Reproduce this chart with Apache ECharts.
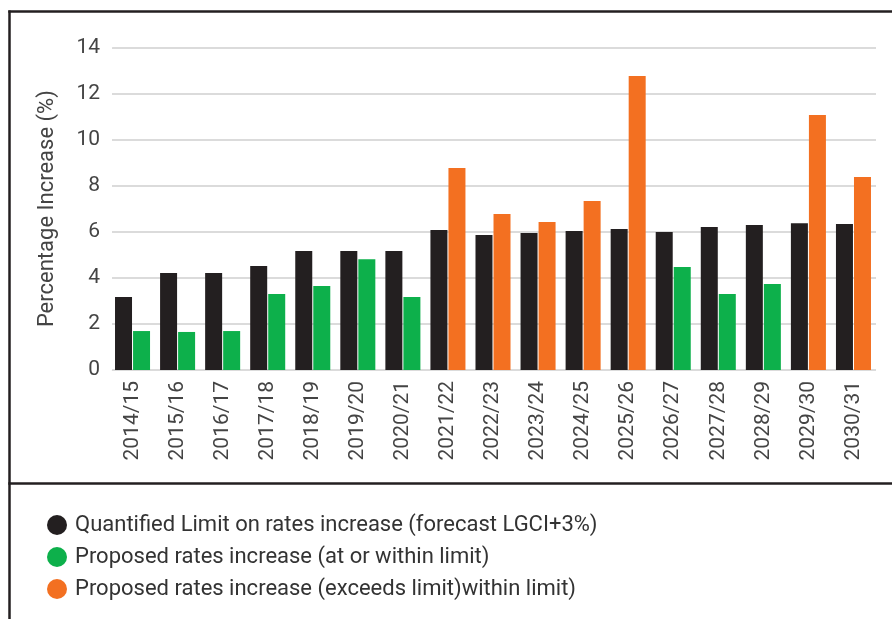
<!DOCTYPE html>
<html>
<head>
<meta charset="utf-8">
<script src="https://cdn.jsdelivr.net/npm/echarts@6/dist/echarts.min.js"></script>
<style>
html,body{margin:0;padding:0;background:#fff;}
#chart{width:892px;height:619px;}
</style>
</head>
<body>
<div id="chart"></div>
<script>
const categories = ['2014/15','2015/16','2016/17','2017/18','2018/19','2019/20','2020/21','2021/22','2022/23','2023/24','2024/25','2025/26','2026/27','2027/28','2028/29','2029/30','2030/31'];
const limitValues = [3.17, 4.21, 4.21, 4.51, 5.16, 5.16, 5.16, 6.07, 5.86, 5.94, 6.03, 6.12, 5.99, 6.20, 6.29, 6.37, 6.33];
const withinValues = [1.69, 1.65, 1.69, 3.30, 3.64, 4.81, 3.17, null, null, null, null, null, 4.47, 3.30, 3.73, null, null];
const exceedsValues = [null, null, null, null, null, null, null, 8.76, 6.77, 6.42, 7.33, 12.75, null, null, null, 11.06, 8.37];
const seriesNames = ['Quantified Limit on rates increase (forecast LGCI+3%)', 'Proposed rates increase (at or within limit)', 'Proposed rates increase (exceeds limit)within limit)'];

const FONT = 'Roboto';
const chart = echarts.init(document.getElementById('chart'), null, {renderer: 'canvas'});
chart.setOption({
  animation: false,
  backgroundColor: '#fff',
  textStyle: {fontFamily: FONT},
  grid: {left: 110, right: 16, top: 47.3, bottom: 249, containLabel: false},
  legend: {
    orient: 'vertical',
    left: 47,
    top: 514,
    padding: 0,
    itemGap: 10,
    itemWidth: 20,
    itemHeight: 20,
    icon: 'circle',
    textStyle: {fontSize: 22, color: '#333', fontFamily: FONT, padding: [0,0,0,3]},
    data: seriesNames
  },
  xAxis: {
    type: 'category',
    data: categories,
    axisLine: {show: false},
    axisTick: {show: false},
    axisLabel: {rotate: 90, margin: 11, fontSize: 21, color: '#444', fontFamily: FONT, interval: 0}
  },
  yAxis: {
    type: 'value',
    min: 0, max: 14, interval: 2,
    name: 'Percentage Increase (%)',
    nameLocation: 'middle',
    nameGap: 52,
    nameRotate: 90,
    nameTextStyle: {fontSize: 22, color: '#444', fontFamily: FONT},
    axisLine: {show: true, lineStyle: {color: '#fff', width: 3}},
    axisTick: {show: false},
    axisLabel: {fontSize: 21, color: '#444', margin: 10, fontFamily: FONT},
    splitLine: {lineStyle: {color: '#cfcfcf', width: 1.5}}
  },
  series: [
    {name: seriesNames[0], type: 'bar', data: limitValues, barWidth: 17, barGap: '6%', itemStyle: {color: '#231f20'}},
    {name: seriesNames[1], type: 'bar', stack: 'p', data: withinValues, barWidth: 17, itemStyle: {color: '#0db04b'}},
    {name: seriesNames[2], type: 'bar', stack: 'p', data: exceedsValues, barWidth: 17, itemStyle: {color: '#f37021'}}
  ],
  graphic: [
    {type: 'line', shape: {x1: 9.5, y1: 10.5, x2: 9.5, y2: 619}, style: {stroke: '#231f20', lineWidth: 2.5}},
    {type: 'line', shape: {x1: 8.3, y1: 11.5, x2: 892, y2: 11.5}, style: {stroke: '#231f20', lineWidth: 2.5}},
    {type: 'line', shape: {x1: 8.3, y1: 483.5, x2: 892, y2: 483.5}, style: {stroke: '#231f20', lineWidth: 2.5}}
  ]
});
</script>
</body>
</html>
